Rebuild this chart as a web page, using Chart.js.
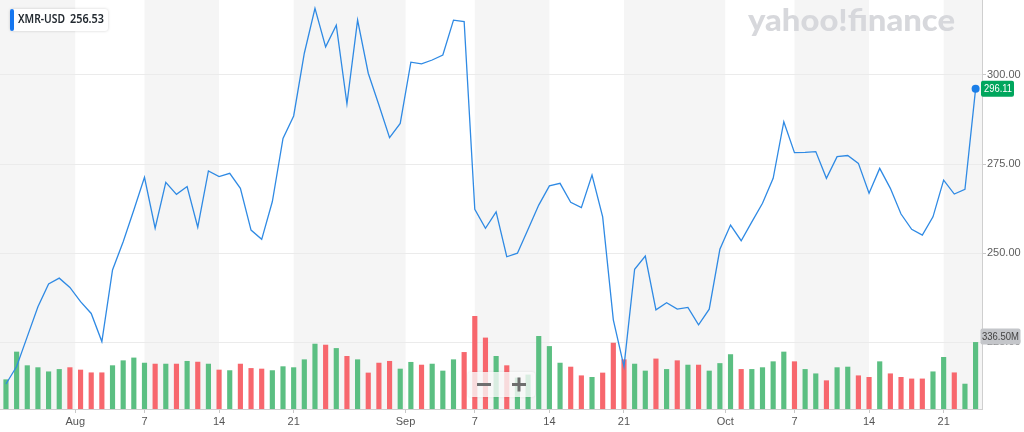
<!DOCTYPE html>
<html>
<head>
<meta charset="utf-8">
<title>XMR-USD</title>
<script src="https://cdn.jsdelivr.net/npm/chart.js@4.4.1/dist/chart.umd.min.js"></script>
<style>
html,body{margin:0;padding:0;background:#fff;}
canvas{display:block;}
</style>
</head>
<body>
<canvas id="chart" width="1024" height="432"></canvas>
<script>
// DATA (one point per day, Jul 25 -> Oct 24)
const prices = [213.3,218.2,226.6,235.0,241.4,243.0,240.4,236.4,233.1,225.2,
    245.3,253.2,262.1,271.3,257.0,269.9,266.5,268.7,257.3,273.1,
    271.5,272.4,268.2,256.5,253.9,264.5,282.2,288.5,306.1,318.7,
    307.9,314.0,291.9,315.4,300.5,291.6,282.4,286.4,303.6,303.1,
    304.2,305.6,315.4,315.0,262.3,257.0,261.6,249.0,250.0,256.7,
    263.5,268.9,269.6,264.3,262.8,271.9,260.2,231.3,218.2,245.5,
    249.2,234.1,236.1,234.3,234.8,229.9,234.3,251.1,257.9,253.5,
    258.8,264.0,271.0,286.9,278.2,278.3,278.5,271.0,277.1,277.4,
    275.2,266.8,273.8,268.2,261.0,256.7,255.1,260.2,270.5,266.6,
    267.9,296.11];

// volume in millions
const volumes = [148,288,219,209,188,200,209,197,183,183,
    219,244,258,232,227,227,227,241,237,227,
    197,194,227,205,202,194,214,209,249,328,
    323,306,266,249,182,232,241,202,236,222,
    227,192,249,286,468,359,266,219,157,172,
    367,316,232,212,168,160,182,333,249,227,
    192,253,200,244,222,222,192,230,275,200,
    200,209,239,288,239,200,178,143,209,212,
    168,160,239,178,160,152,152,188,261,183,
    126,336.5];

// x tick positions are day indexes (month starts sit half a day before the 1st)
const tickPos = [6.5,13,20,27,37.5,44,51,58,67.5,74,81,88];
const tickLabels = ['Aug','7','14','21','Sep','7','14','21','Oct','7','14','21'];
const priceTicks = [225,250,275,300];

const symbol = 'XMR-USD';
const shownValue = '256.53';
const lastVolumeLabel = '336.50M';

const GREEN = '#5bbf82';
const RED = '#f7676d';
const barColors = prices.map((p,i)=> (i===0 || p>=prices[i-1]) ? GREEN : RED);

function roundRect(ctx,x,y,w,h,r){
    ctx.beginPath();
    ctx.moveTo(x+r,y);
    ctx.arcTo(x+w,y,x+w,y+h,r);
    ctx.arcTo(x+w,y+h,x,y+h,r);
    ctx.arcTo(x,y+h,x,y,r);
    ctx.arcTo(x,y,x+w,y,r);
    ctx.closePath();
}

// no extra room for overflowing labels: plot fills the canvas up to the axes
function noPadding(s){
    s.paddingLeft = 0; s.paddingRight = 0; s.paddingTop = 0; s.paddingBottom = 0;
}

// BACKGROUND BANDS + LOGO + LABELS
const decorations = {
    id:'decorations',
    beforeDraw(chart){
        const {ctx, chartArea:a, scales:{x}} = chart;
        ctx.save();
        ctx.fillStyle = '#fff';
        ctx.fillRect(0,0,chart.width,chart.height);
        const edges = [a.left, ...tickPos.map(v=>x.getPixelForValue(v)), a.right];
        for(let i=0;i<edges.length-1;i++){
            if(i%2===0){
                ctx.fillStyle = '#f5f5f5';
                ctx.fillRect(edges[i], a.top, edges[i+1]-edges[i], a.bottom-a.top);
            }
        }
        ctx.restore();
    },
    beforeDatasetsDraw(chart){
        const ctx = chart.ctx;
        ctx.save();
        ctx.font = '900 31px Lato';
        ctx.fillStyle = '#d7d8dc';
        ctx.textBaseline = 'alphabetic';
        const w = ctx.measureText('yahoo!finance').width;
        ctx.translate(748,31);
        ctx.scale(207/w,1);
        ctx.fillText('yahoo!finance',0,0);
        ctx.restore();
    },
    afterDraw(chart){
        const {ctx, scales:{y, vol}} = chart;
        ctx.save();

        // symbol box
        ctx.shadowColor = 'rgba(0,0,0,0.18)';
        ctx.shadowBlur = 3;
        ctx.fillStyle = '#fff';
        roundRect(ctx,10,9,98,22,3);
        ctx.fill();
        ctx.shadowBlur = 0;
        ctx.fillStyle = '#1677f0';
        roundRect(ctx,10,9,4,22,2);
        ctx.fill();
        ctx.fillStyle = '#232a31';
        ctx.font = '600 12px "Noto Sans"';
        ctx.textBaseline = 'middle';
        ctx.fillText(symbol,18,20,47);
        ctx.fillText(shownValue,70,20,34);

        // last price tag
        const last = prices.length-1;
        const py = y.getPixelForValue(prices[last]);
        ctx.fillStyle = '#00a65d';
        roundRect(ctx,981,py-8,33,16,2);
        ctx.fill();
        ctx.fillStyle = '#fff';
        ctx.font = '11px "Liberation Sans"';
        ctx.fillText(prices[last].toFixed(2),984,py+0.5,28);

        // last volume tag
        const vy = vol.getPixelForValue(volumes[last]);
        ctx.fillStyle = '#c4c6ca';
        roundRect(ctx,980.5,vy-14,40,16,2);
        ctx.fill();
        ctx.fillStyle = '#444';
        ctx.fillText(lastVolumeLabel,982,vy-5.5,37);

        // zoom controls
        ctx.shadowColor = 'rgba(0,0,0,0.12)';
        ctx.shadowBlur = 3;
        ctx.fillStyle = 'rgba(255,255,255,0.78)';
        roundRect(ctx,468,372,67,25,3);
        ctx.fill();
        ctx.shadowBlur = 0;
        ctx.fillStyle = '#6f6f6f';
        ctx.fillRect(477,383,14,3);
        ctx.fillRect(512,383,14,3);
        ctx.fillRect(517.5,377.5,3,14);
        ctx.restore();
    }
};

// CHART
new Chart(document.getElementById('chart'),{
    type:'bar',
    data:{
        datasets:[
            {
                type:'line',
                yAxisID:'y',
                data: prices.map((p,i)=>({x:i,y:p})),
                borderColor:'#2f8ae4',
                borderWidth:1.3,
                tension:0,
                pointRadius: c=> c.dataIndex===prices.length-1 ? 4 : 0,
                pointBackgroundColor:'#1a7ee8',
                pointBorderWidth:0,
                clip:false,
                order:1
            },
            {
                type:'bar',
                yAxisID:'vol',
                data: volumes.map((v,i)=>({x:i,y:v})),
                backgroundColor: barColors,
                barThickness:4.5,
                order:2
            }
        ]
    },
    options:{
        responsive:false,
        animation:false,
        layout:{padding:0, autoPadding:false},
        plugins:{legend:{display:false}, tooltip:{enabled:false}},
        scales:{
            x:{
                type:'linear',
                offset:false,
                min:-0.56,
                max:91.6,
                afterBuildTicks: s=>{ s.ticks = tickPos.map(v=>({value:v})); },
                afterFit: s=>{ s.height = 23; noPadding(s); },
                ticks:{
                    callback:(v,i)=>tickLabels[i],
                    autoSkip:false,
                    maxRotation:0,
                    padding:2,
                    color:'#555',
                    font:{family:'Liberation Sans', size:11}
                },
                grid:{drawOnChartArea:false, offset:false, tickLength:4, tickColor:'#c8c8c8'},
                border:{color:'#cfcfcf'}
            },
            y:{
                position:'right',
                min:206.29,
                max:321.04,
                afterBuildTicks: s=>{ s.ticks = priceTicks.map(v=>({value:v})); },
                afterFit: s=>{ s.width = 42; noPadding(s); },
                ticks:{
                    callback: v=> v.toFixed(2),
                    padding:1,
                    color:'#5e5e5e',
                    font:{family:'Liberation Sans', size:11}
                },
                grid:{color:'#ebebeb', tickLength:4, tickColor:'#c8c8c8'},
                border:{color:'#cfcfcf'}
            },
            vol:{
                display:false,
                min:0,
                max:2066
            }
        }
    },
    plugins:[decorations]
});
</script>
</body>
</html>
